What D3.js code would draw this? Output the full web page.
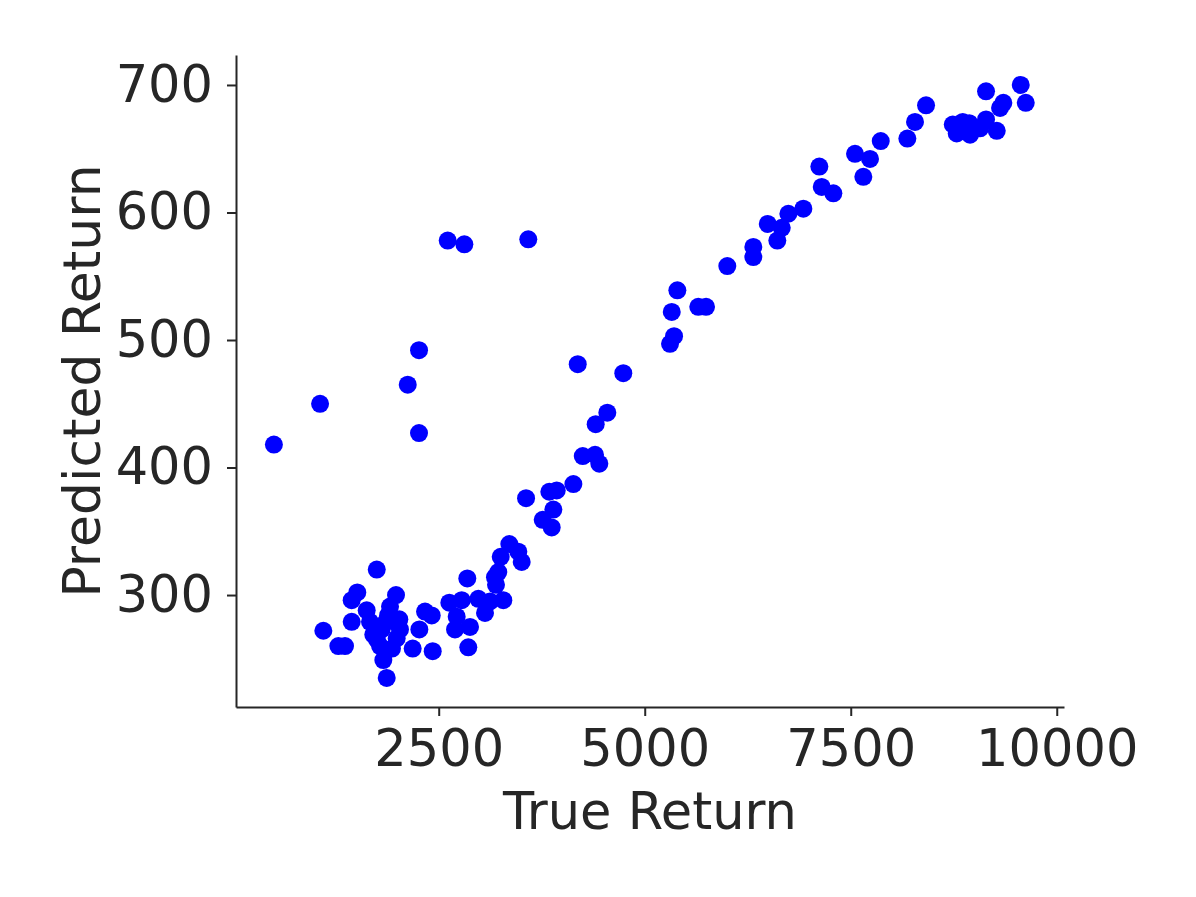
<!DOCTYPE html>
<html>
<head>
<meta charset="utf-8">
<script src="https://cdn.jsdelivr.net/npm/d3@7"></script>
<style>
  body { margin: 0; background: #fff; }
  text { font-family: "DejaVu Sans", sans-serif; fill: #262626; }
</style>
</head>
<body>
<svg id="chart" width="1196" height="897"></svg>
<script>
// true return values (x)
var trueReturn = [
  500, 1060, 2124, 2261, 2261, 2609, 2811, 3587, 4187, 4740,
  4546, 4405, 4248, 4397, 4449, 4134, 3932, 3842, 3560, 3891,
  3762, 3871, 3357, 3466, 3252, 3507, 3223, 3183, 3195, 2847,
  3284, 3123, 2981, 2779, 2629, 3062, 2718, 2415, 1748, 1512,
  1444, 1982, 1626, 1909, 1444, 2022, 1100, 1282, 1363, 1706,
  1808, 1990, 1828, 1869, 1788, 2184, 2427, 2265, 2334, 2698,
  2880, 2859, 1666, 1860, 1933, 1751, 1885, 2030,
  5396, 5328, 5650, 5744, 5356, 5307, 6002, 6318, 6318, 6493,
  6609, 6663, 6743, 6925, 7119, 7148, 7289, 7552, 7734, 7653,
  7864, 8187, 8280, 8414, 8738, 8786, 8859, 8948, 8939, 9142,
  9142, 9272, 9352, 9312, 9563, 9624, 9069
];
// predicted return values (y)
var predReturn = [
  418, 450, 465, 492, 427, 578, 575, 579, 481, 474,
  443, 434, 409, 410, 403, 387, 382, 381, 376, 367,
  359, 353, 340, 334, 330, 326, 318, 314, 308, 313,
  296, 295, 297, 296, 294, 286, 283, 284, 320, 302,
  296, 300, 288, 291, 279, 281, 272, 260, 260, 269,
  273, 266, 249, 235, 260, 258, 256, 273, 287, 273,
  275, 259, 279, 279, 258, 265, 284, 273,
  539, 522, 526, 526, 503, 497, 558, 573, 565, 591,
  578, 588, 599, 603, 636, 620, 615, 646, 642, 628,
  656, 658, 671, 684, 669, 662, 671, 661, 670, 695,
  673, 664, 686, 682, 700, 686, 666
];
var xTicks = [2500, 5000, 7500, 10000];
var yTicks = [300, 400, 500, 600, 700];

var svg = d3.select("#chart");

// plot box (window.top is read-only, so prefix names)
var pLeft = 236, pRight = 1064, pTop = 55, pBottom = 707;

var x = d3.scaleLinear()
    .domain([40, 10088])
    .range([pLeft, pRight]);

var y = d3.scaleLinear()
    .domain([212.2, 723.5])
    .range([pBottom, pTop]);

svg.append("g")
    .attr("transform", "translate(0," + pBottom + ")")
    .call(d3.axisBottom(x).tickValues(xTicks).tickFormat(d3.format("d"))
      .tickSize(9).tickSizeOuter(0).tickPadding(14));

svg.append("g")
    .attr("transform", "translate(" + pLeft + ",0)")
    .call(d3.axisLeft(y).tickValues(yTicks).tickFormat(d3.format("d"))
      .tickSize(9).tickSizeOuter(0).tickPadding(14));

svg.selectAll(".domain").attr("stroke", "#262626").attr("stroke-width", 2);
svg.selectAll(".tick line").attr("stroke", "#262626").attr("stroke-width", 2);
svg.selectAll(".tick text")
    .style("font-size", "51px")
    .attr("fill", "#262626");

// points
var pts = d3.zip(trueReturn, predReturn);
svg.append("g")
  .selectAll("circle")
  .data(pts)
  .enter().append("circle")
    .attr("cx", function(d) { return x(d[0]); })
    .attr("cy", function(d) { return y(d[1]); })
    .attr("r", 9)
    .attr("fill", "#0000ff");

// axis labels
svg.append("text")
    .attr("x", (pLeft + pRight) / 2)
    .attr("y", 829)
    .attr("text-anchor", "middle")
    .style("font-size", "51px")
    .text("True Return");

svg.append("text")
    .attr("transform", "translate(100," + ((pTop + pBottom) / 2) + ") rotate(-90)")
    .attr("text-anchor", "middle")
    .style("font-size", "52px")
    .text("Predicted Return");
</script>
</body>
</html>
